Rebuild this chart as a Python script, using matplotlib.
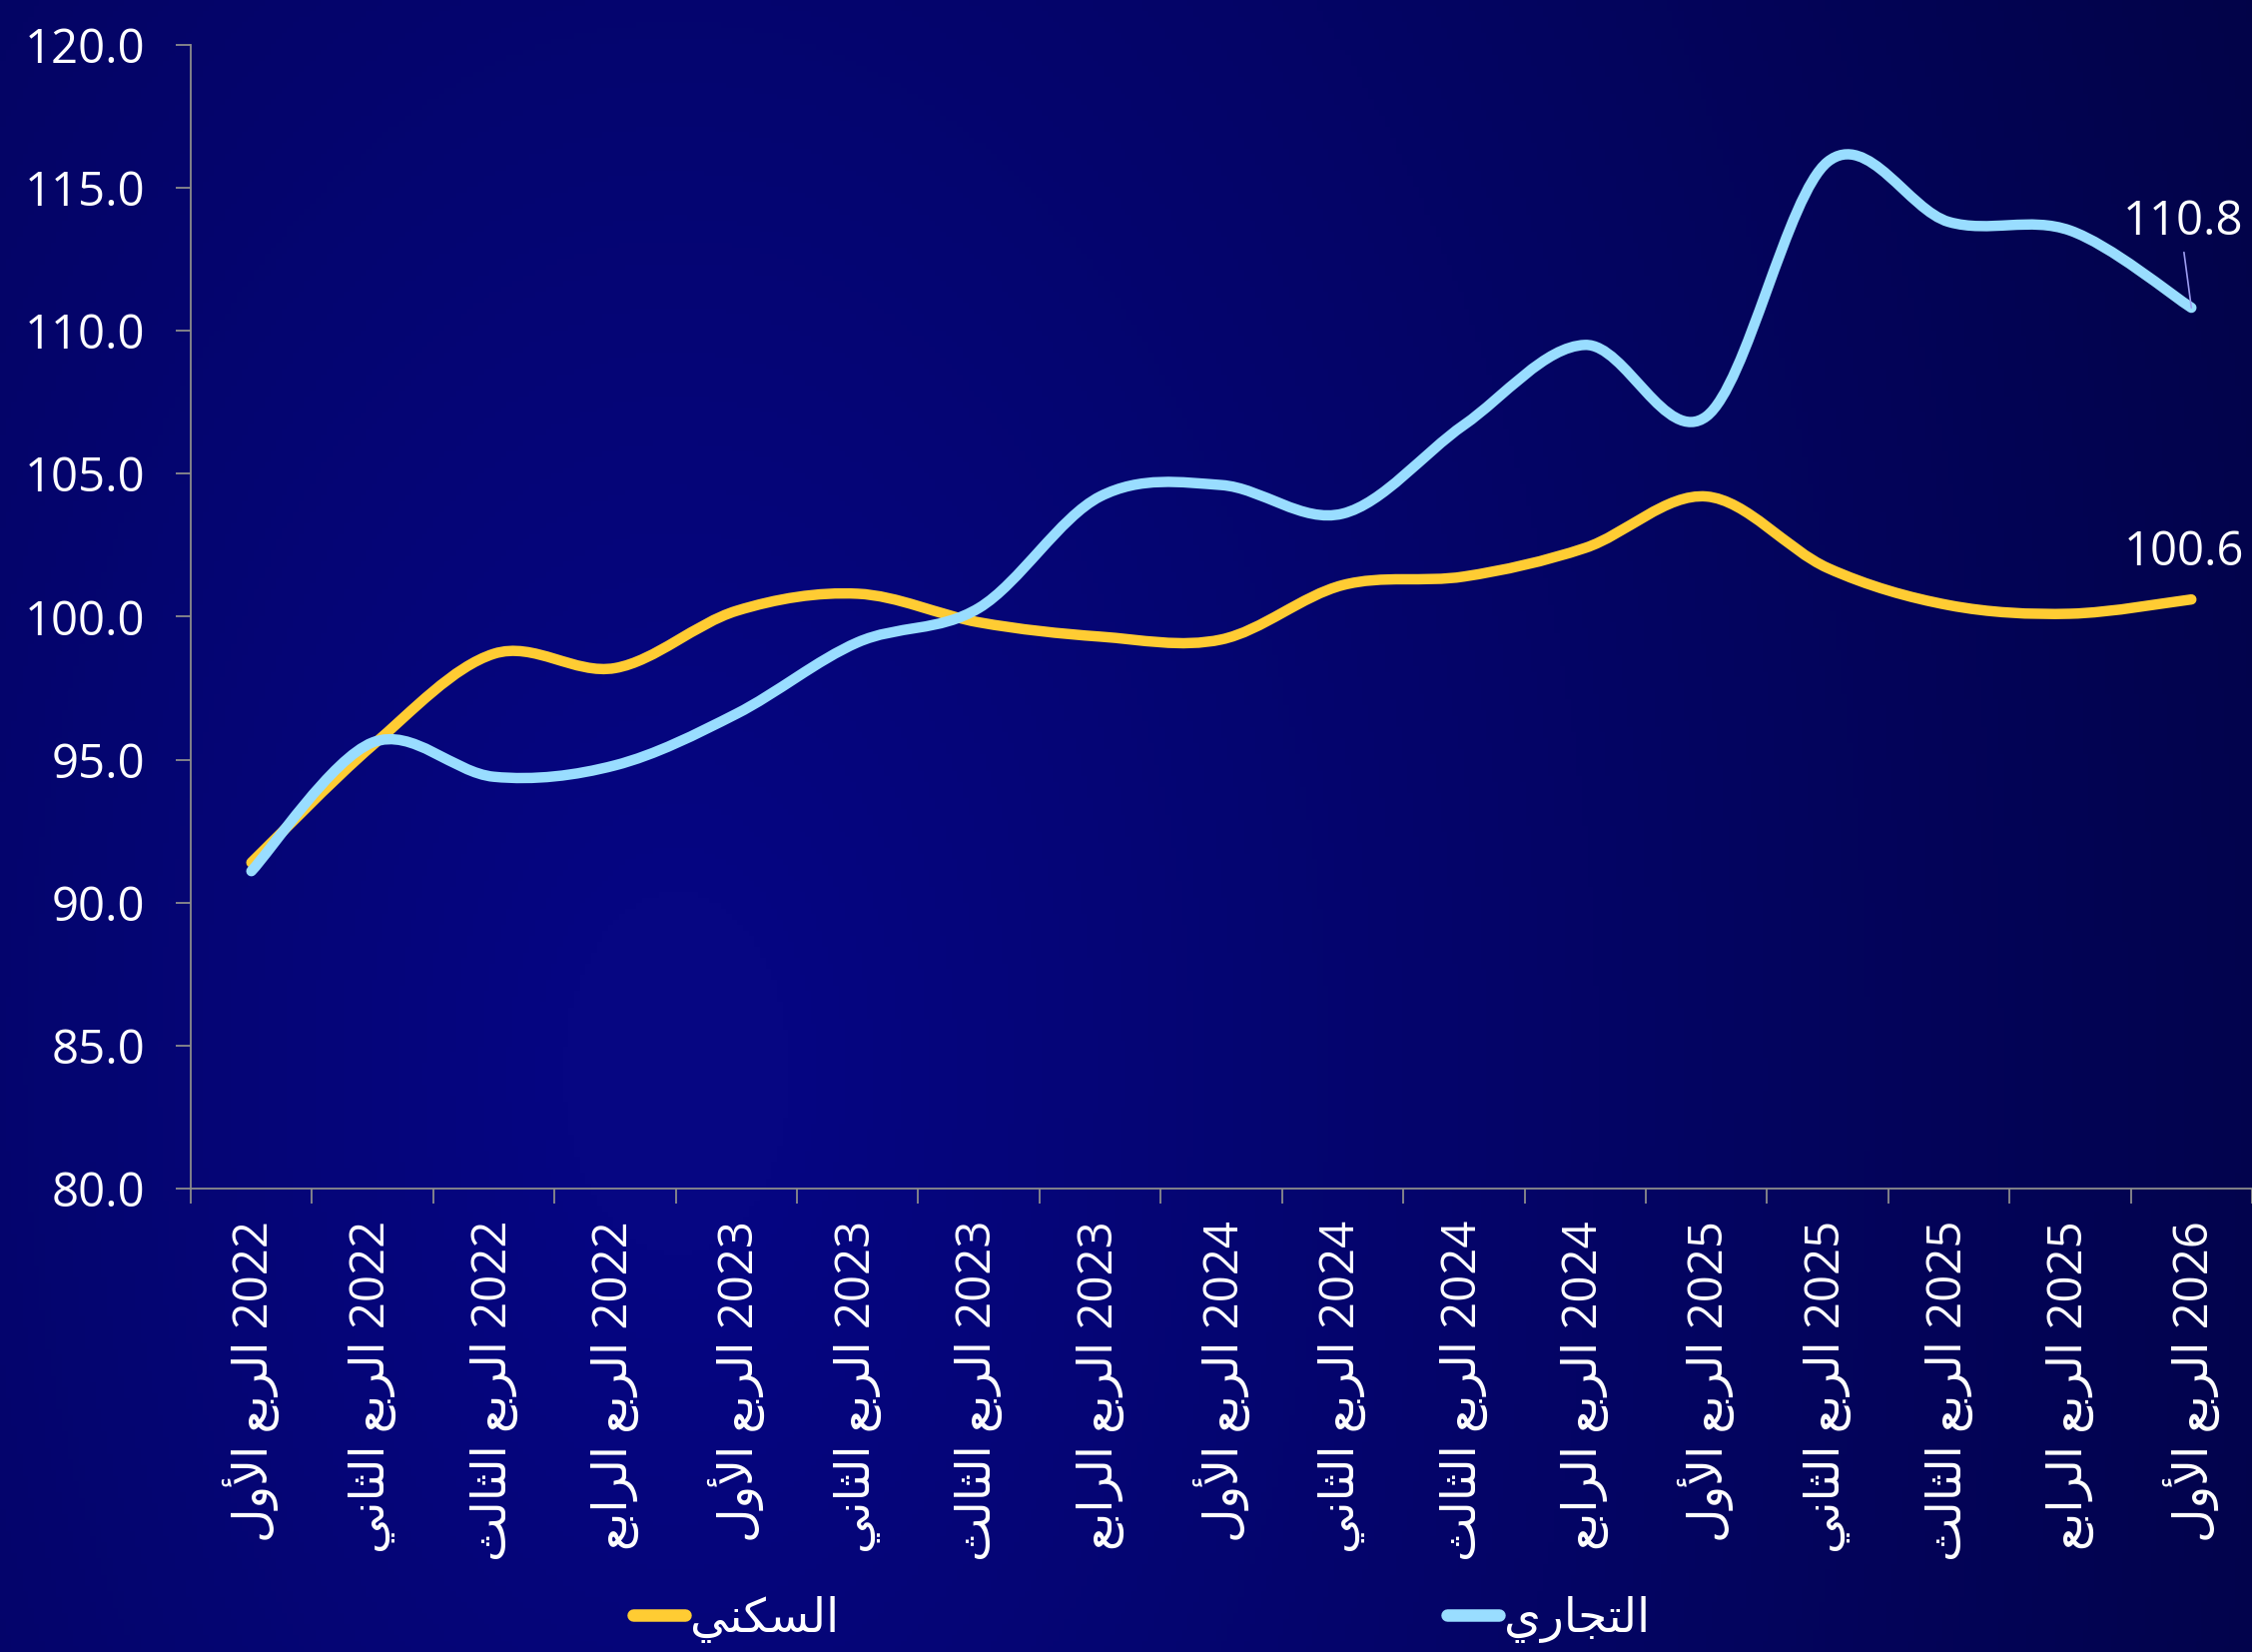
import numpy as np
import matplotlib
matplotlib.use("Agg")
import matplotlib.pyplot as plt
from matplotlib.path import Path
from matplotlib.patches import PathPatch
from matplotlib.lines import Line2D

plt.rcParams['font.family'] = ['Open Sans', 'DejaVu Sans']

# --- data ---
quarters = ['الأول', 'الثاني', 'الثالث', 'الرابع',
            'الأول', 'الثاني', 'الثالث', 'الرابع',
            'الأول', 'الثاني', 'الثالث', 'الرابع',
            'الأول', 'الثاني', 'الثالث', 'الرابع',
            'الأول']
years = ['2022', '2022', '2022', '2022',
         '2023', '2023', '2023', '2023',
         '2024', '2024', '2024', '2024',
         '2025', '2025', '2025', '2025',
         '2026']
residential = [91.4, 95.5, 98.7, 98.2, 100.2, 100.8, 99.8, 99.3, 99.2,
               101.1, 101.4, 102.4, 104.2, 101.7, 100.4, 100.1, 100.6]
commercial = [91.1, 95.6, 94.4, 94.8, 96.6, 99.1, 100.3, 104.2, 104.6,
              103.6, 106.7, 109.5, 107.0, 115.9, 113.8, 113.5, 110.8]
series_names = ['السكني', 'التجاري']
series_colors = ['#FFCC33', '#99DDFF']

# --- tiny arabic shaper (presentation forms) so matplotlib joins letters ---
FORMS = {
    'ا': (0xFE8D, 0xFE8E), 'أ': (0xFE83, 0xFE84), 'ر': (0xFEAD, 0xFEAE),
    'و': (0xFEED, 0xFEEE),
    'ب': (0xFE8F, 0xFE90, 0xFE91, 0xFE92), 'ت': (0xFE95, 0xFE96, 0xFE97, 0xFE98),
    'ث': (0xFE99, 0xFE9A, 0xFE9B, 0xFE9C), 'ج': (0xFE9D, 0xFE9E, 0xFE9F, 0xFEA0),
    'س': (0xFEB1, 0xFEB2, 0xFEB3, 0xFEB4), 'ع': (0xFEC9, 0xFECA, 0xFECB, 0xFECC),
    'ك': (0xFED9, 0xFEDA, 0xFEDB, 0xFEDC), 'ل': (0xFEDD, 0xFEDE, 0xFEDF, 0xFEE0),
    'ن': (0xFEE5, 0xFEE6, 0xFEE7, 0xFEE8), 'ي': (0xFEF1, 0xFEF2, 0xFEF3, 0xFEF4),
}
LAM_ALEF = {'ا': (0xFEFB, 0xFEFC), 'أ': (0xFEF7, 0xFEF8)}


def shape_ar(text):
    out = []
    prev_joins = False
    i = 0
    while i < len(text):
        c = text[i]
        if c not in FORMS:
            out.append(c)
            prev_joins = False
            i += 1
            continue
        if c == 'ل' and i + 1 < len(text) and text[i + 1] in LAM_ALEF:
            iso, fin = LAM_ALEF[text[i + 1]]
            out.append(chr(fin if prev_joins else iso))
            prev_joins = False
            i += 2
            continue
        f = FORMS[c]
        nxt = text[i + 1] if i + 1 < len(text) else ''
        joins_next = len(f) == 4 and nxt in FORMS
        if prev_joins and joins_next:
            g = f[3]
        elif prev_joins:
            g = f[1]
        elif joins_next:
            g = f[2]
        else:
            g = f[0]
        out.append(chr(g))
        prev_joins = joins_next
        i += 1
    return ''.join(out)


def ar(text):
    return shape_ar(text)[::-1]


def smooth_path(x, y):
    # catmull-rom style bezier, like excel's smoothed line
    x = np.asarray(x, float)
    y = np.asarray(y, float)
    px = np.r_[x[0], x, x[-1]]
    py = np.r_[y[0], y, y[-1]]
    verts = [(x[0], y[0])]
    codes = [Path.MOVETO]
    for i in range(1, len(x)):
        c1 = (px[i] + (px[i + 1] - px[i - 1]) / 6, py[i] + (py[i + 1] - py[i - 1]) / 6)
        c2 = (px[i + 1] - (px[i + 2] - px[i]) / 6, py[i + 1] - (py[i + 2] - py[i]) / 6)
        verts += [c1, c2, (x[i], y[i])]
        codes += [Path.CURVE4] * 3
    return Path(verts, codes)


fig = plt.figure(figsize=(22.55, 16.54), dpi=100)

# background gradient
bg = fig.add_axes([0, 0, 1, 1], zorder=-10)
gx, gy = np.meshgrid(np.linspace(0, 1, 400), np.linspace(1, 0, 300))
d = np.sqrt(((gx - 0.3) / 1.0) ** 2 + ((gy - 0.35) / 2.2) ** 2)
t = np.clip((d - 0.05) / 0.72, 0, 1)
c0 = np.array([6, 6, 130]) / 255
c1 = np.array([2, 3, 72]) / 255
img = c0[None, None, :] * (1 - t[..., None]) + c1[None, None, :] * t[..., None]
bg.imshow(img, aspect='auto', extent=[0, 1, 0, 1])
bg.axis('off')

ax = fig.add_axes([0.0847, 0.2805, 0.9153, 0.6925])
ax.set_facecolor('none')

n = len(years)
xs = np.arange(n)
for vals, col in zip([residential, commercial], series_colors):
    ax.add_patch(PathPatch(smooth_path(xs, vals), fill=False, edgecolor=col,
                           lw=7.5, capstyle='round', joinstyle='round', zorder=3))

ax.set_xlim(-0.5, n - 0.5)
ax.set_ylim(80, 120)
ax.set_yticks(np.arange(80, 121, 5))
ax.set_yticklabels([f'{v:.1f}' for v in np.arange(80, 121, 5)])

ax.set_xticks(np.arange(-0.5, n, 1.0))
ax.set_xticklabels([])
ax.set_xticks(xs, minor=True)
ax.set_xticklabels([ar('الربع ' + q) + ' ' + y for q, y in zip(quarters, years)],
                   minor=True, rotation=90)

for s in ['top', 'right']:
    ax.spines[s].set_visible(False)
for s in ['left', 'bottom']:
    ax.spines[s].set_color('#8c8c8c')
    ax.spines[s].set_linewidth(1.3)
ax.tick_params(axis='both', which='major', color='#8c8c8c', width=1.3, length=11,
               labelcolor='white', labelsize=34)
ax.tick_params(axis='y', pad=22)
ax.tick_params(axis='x', which='minor', length=0, pad=23, labelcolor='white', labelsize=34)

# end labels
ax.annotate(f'{commercial[-1]:.1f}', xy=(xs[-1], commercial[-1]), xytext=(-6, 62),
            textcoords='offset points', ha='center', va='center', color='white',
            fontsize=34,
            arrowprops=dict(arrowstyle='-', color='#9c9cf0', lw=1.2, shrinkA=3, shrinkB=0,
                            relpos=(0.5, 0)))
ax.annotate(f'{residential[-1]:.1f}', xy=(xs[-1], residential[-1]), xytext=(-5, 34),
            textcoords='offset points', ha='center', va='center', color='white',
            fontsize=34)

handles = [Line2D([], [], color=c, lw=9, solid_capstyle='round') for c in series_colors]
fig.legend(handles, [ar(s) for s in series_names], loc='center',
           bbox_to_anchor=(0.507, 0.02), ncol=2, frameon=False, fontsize=34,
           labelcolor='white', handlelength=1.1, handletextpad=0.1, columnspacing=12.9)

fig.savefig('out.png', dpi=100)
